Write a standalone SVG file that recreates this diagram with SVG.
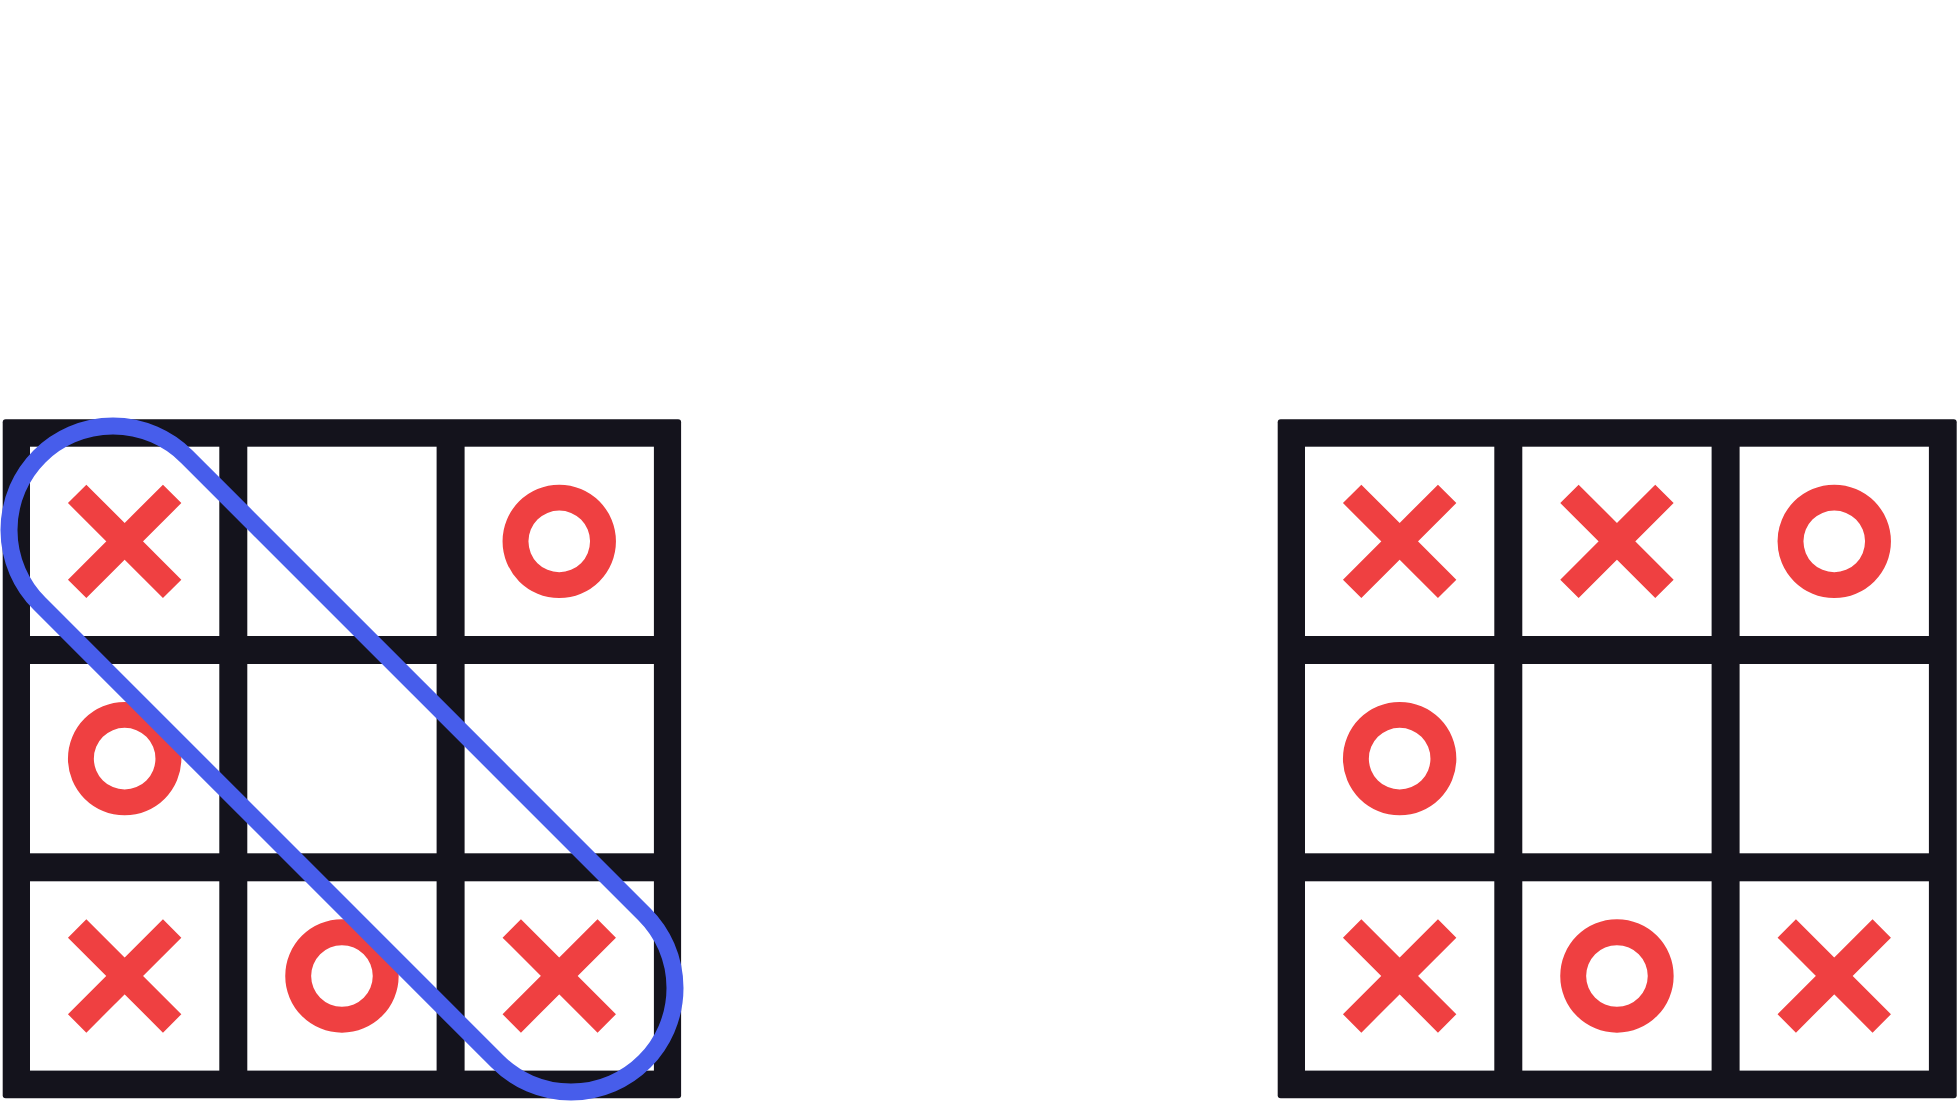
<svg xmlns="http://www.w3.org/2000/svg" xmlns:xlink="http://www.w3.org/1999/xlink" width="1957" height="1101" viewBox="0 0 1957 1101">
  <style>
    .board { fill: #14131c; }
    .cell { fill: #ffffff; }
    .mark { fill: none; stroke: #ef4041; stroke-width: 26; stroke-linecap: butt; }
    .ring { fill: #ef4041; fill-rule: evenodd; stroke: none; }
    .win { fill: none; stroke: #475deb; stroke-width: 17; }
  </style>
  <defs>
    <path id="xmark" class="mark" d="M-47.5,-47.5 L47.5,47.5 M47.5,-47.5 L-47.5,47.5"/>
    <path id="omark" class="ring" d="M-56.7,0 A56.7,56.7 0 1 0 56.7,0 A56.7,56.7 0 1 0 -56.7,0 Z M-30.8,0 A30.8,30.8 0 1 0 30.8,0 A30.8,30.8 0 1 0 -30.8,0 Z"/>
  </defs>
  <rect width="1957" height="1101" fill="#ffffff"/>

  <g id="board-left">
    <rect class="board" x="2.7" y="419.3" width="678.4" height="679" rx="3"/>
    <rect class="cell" x="30" y="446.7" width="189.3" height="189.3"/>
    <rect class="cell" x="247.3" y="446.7" width="189.3" height="189.3"/>
    <rect class="cell" x="464.6" y="446.7" width="189.3" height="189.3"/>
    <rect class="cell" x="30" y="664" width="189.3" height="189.3"/>
    <rect class="cell" x="247.3" y="664" width="189.3" height="189.3"/>
    <rect class="cell" x="464.6" y="664" width="189.3" height="189.3"/>
    <rect class="cell" x="30" y="881.3" width="189.3" height="189.3"/>
    <rect class="cell" x="247.3" y="881.3" width="189.3" height="189.3"/>
    <rect class="cell" x="464.6" y="881.3" width="189.3" height="189.3"/>
  </g>
  <g id="marks-left">
    <use id="L-r0c0" xlink:href="#xmark" href="#xmark" x="124.65" y="541.35"/>
    <use id="L-r0c2" xlink:href="#omark" href="#omark" x="559.25" y="541.35"/>
    <use id="L-r1c0" xlink:href="#omark" href="#omark" x="124.65" y="758.65"/>
    <use id="L-r2c0" xlink:href="#xmark" href="#xmark" x="124.65" y="975.95"/>
    <use id="L-r2c1" xlink:href="#omark" href="#omark" x="341.95" y="975.95"/>
    <use id="L-r2c2" xlink:href="#xmark" href="#xmark" x="559.25" y="975.95"/>
  </g>
  <g id="win-line">
    <rect class="win" x="-427.85" y="-104" width="855.7" height="208" rx="104" transform="translate(342 759) rotate(45)"/>
  </g>

  <g id="board-right">
    <rect class="board" x="1277.7" y="419.3" width="679" height="679" rx="3"/>
    <rect class="cell" x="1305" y="446.7" width="189.3" height="189.3"/>
    <rect class="cell" x="1522.3" y="446.7" width="189.3" height="189.3"/>
    <rect class="cell" x="1739.6" y="446.7" width="189.3" height="189.3"/>
    <rect class="cell" x="1305" y="664" width="189.3" height="189.3"/>
    <rect class="cell" x="1522.3" y="664" width="189.3" height="189.3"/>
    <rect class="cell" x="1739.6" y="664" width="189.3" height="189.3"/>
    <rect class="cell" x="1305" y="881.3" width="189.3" height="189.3"/>
    <rect class="cell" x="1522.3" y="881.3" width="189.3" height="189.3"/>
    <rect class="cell" x="1739.6" y="881.3" width="189.3" height="189.3"/>
  </g>
  <g id="marks-right">
    <use id="R-r0c0" xlink:href="#xmark" href="#xmark" x="1399.65" y="541.35"/>
    <use id="R-r0c1" xlink:href="#xmark" href="#xmark" x="1616.95" y="541.35"/>
    <use id="R-r0c2" xlink:href="#omark" href="#omark" x="1834.25" y="541.35"/>
    <use id="R-r1c0" xlink:href="#omark" href="#omark" x="1399.65" y="758.65"/>
    <use id="R-r2c0" xlink:href="#xmark" href="#xmark" x="1399.65" y="975.95"/>
    <use id="R-r2c1" xlink:href="#omark" href="#omark" x="1616.95" y="975.95"/>
    <use id="R-r2c2" xlink:href="#xmark" href="#xmark" x="1834.25" y="975.95"/>
  </g>
  <g id="connectors"/>
</svg>
